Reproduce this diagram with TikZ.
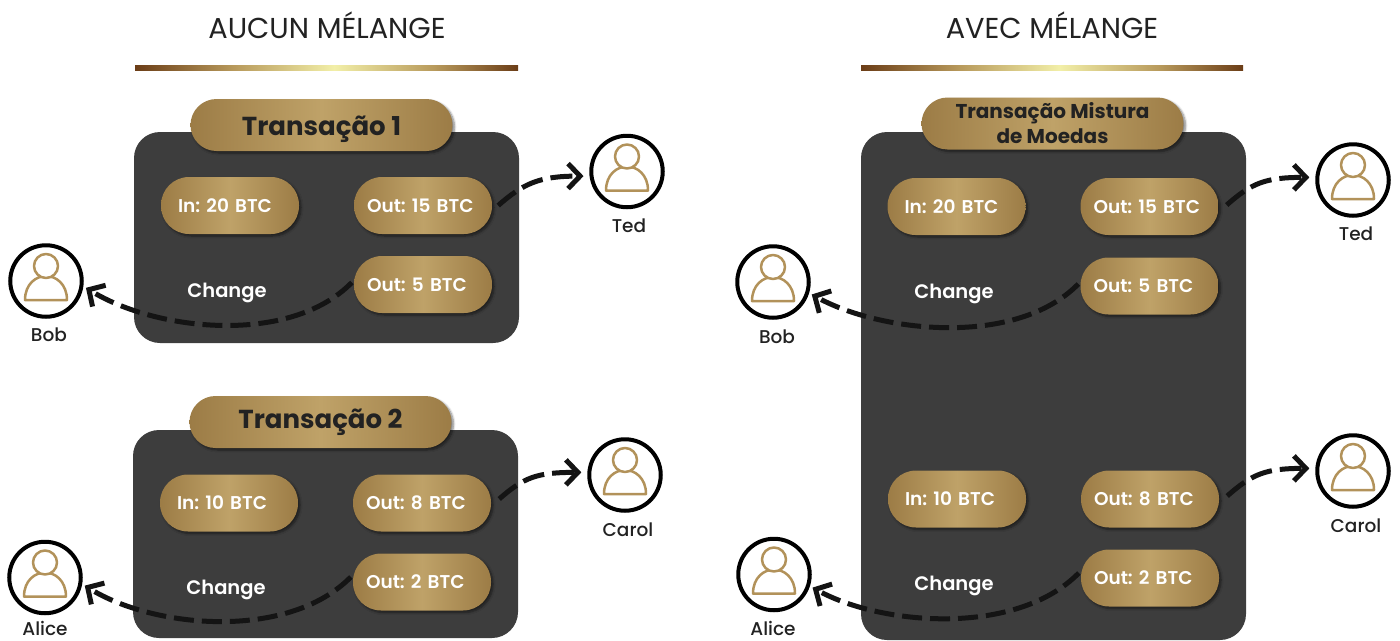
\documentclass[tikz,border=0pt]{standalone}
\usepackage{fontspec}
\setmainfont{Poppins}
\newfontfamily\medfont{Poppins Medium}
\newfontfamily\semifont{Poppins SemiBold}
\newfontfamily\boldfont{Poppins Bold}
\frenchspacing
\usetikzlibrary{arrows.meta}
\usetikzlibrary{shadows.blur}

\definecolor{panelgrey}{HTML}{3D3D3D}
\definecolor{golddark}{HTML}{9C7C46}
\definecolor{goldlight}{HTML}{BFA268}
\definecolor{barbrown}{HTML}{6B3D17}
\definecolor{barmid}{HTML}{B89A5C}
\definecolor{barpale}{HTML}{F2EFA8}
\definecolor{inkdark}{HTML}{222222}
\definecolor{icongold}{HTML}{B2925A}

\pgfdeclarehorizontalshading{goldpill}{100bp}{color(0bp)=(golddark); color(25bp)=(golddark); color(50bp)=(goldlight); color(75bp)=(golddark); color(100bp)=(golddark)}
\pgfdeclarehorizontalshading{goldbar}{100bp}{color(0bp)=(barbrown); color(25bp)=(barbrown); color(38bp)=(barmid); color(51bp)=(barpale); color(64bp)=(barmid); color(75bp)=(barbrown); color(100bp)=(barbrown)}

% person in a black ring, #1 = name, #2 and #3 = centre
\newcommand{\personicon}[3]{
	\node (#1) [person] at (#2,#3) {};
	\begin{scope}[shift={(#1.center)}]
		\draw[icon] (-21,19) .. controls (-21,3) and (-10,-5) .. (0,-5) .. controls (10,-5) and (21,3) .. (21,19) -- cycle;
		\draw[icon, fill=white] (0,-15) circle (12);
	\end{scope}
}

\begin{document}
\begin{tikzpicture}[x=1pt, y=-1pt, node distance=193pt,
	title/.style={font=\fontsize{28.8}{32}\selectfont, text=inkdark},
	bar/.style={minimum height=5pt, inner sep=0pt, shading=goldbar},
	panel/.style={fill=panelgrey, rounded corners=26pt, minimum width=385pt},
	pillbase/.style={rounded corners=28pt, shading=goldpill, minimum height=57pt, blur shadow={shadow xshift=2pt, shadow yshift=-2pt, shadow blur steps=6, shadow opacity=50}},
	outpill/.style={pillbase, inner xsep=13pt, text width=112pt, align=left, text=white, font=\semifont\fontsize{18.5}{20}\selectfont},
	inpill/.style={pillbase, inner xsep=17pt, text width=104pt, align=left, text=white, font=\semifont\fontsize{18.5}{20}\selectfont},
	head/.style={pillbase, rounded corners=26pt, minimum width=262pt, minimum height=52pt, inner sep=0pt, align=center, text=inkdark, font=\boldfont\fontsize{26}{30}\selectfont},
	note/.style={text=white, font=\semifont\fontsize{19.5}{22}\selectfont},
	who/.style={text=inkdark, inner sep=0pt, font=\medfont\fontsize{18.5}{20}\selectfont},
	person/.style={circle, draw=black, line width=4pt, fill=white, minimum size=71.5pt, inner sep=0pt},
	icon/.style={draw=icongold, line width=2.5pt, line join=round},
	flow/.style={line width=5pt, draw=black!92, dash pattern=on 20pt off 8pt, -{Straight Barb[length=12pt, width=25pt, line width=5pt]}, shorten >=3pt},
	flowout/.style={flow, dash pattern=on 22pt off 8pt, shorten >=6pt}]
	\useasboundingbox (0,0) rectangle (1400,640);

	% left side
	\node (TitleLeft)	[title] at (327,25)			{AUCUN MÉLANGE};
	\node (BarLeft)		[bar, minimum width=383pt] at (326.5,67.5)	{};
	\node (PanelA)		[panel, minimum height=211pt] at (326.5,237.5)	{};
	\node (PanelB)		[panel, minimum height=208pt] at (325.5,534)	{};
	\node (HeadA)		[head, text height=26pt, text depth=6pt] at (321.5,125)	{Transação 1};
	\node (HeadB)		[head] at (320.5,422)		{Transação 2};
	\node (InA)			[inpill] at (230,205.5)		{In: 20 BTC};
	\node (OutA)		[outpill, right of=InA]		{Out: 15 BTC};
	\node (ChangeA)		[outpill, below of=OutA, node distance=79pt]	{Out: 5 BTC};
	\node (NoteA)		[note] at (227,293)			{Change};
	\node (InB)			[inpill] at (229,503)		{In: 10 BTC};
	\node (OutB)		[outpill, right of=InB]		{Out: 8 BTC};
	\node (ChangeB)		[outpill, below of=OutB, node distance=79pt]	{Out: 2 BTC};
	\node (NoteB)		[note] at (226,590)			{Change};
	\personicon{TedA}{627}{171.5}
	\personicon{BobA}{46}{281}
	\personicon{CarolA}{625}{475}
	\personicon{AliceA}{45}{577.5}
	\node (TedNameA)	[who] at (629,226)			{Ted};
	\node (BobNameA)	[who] at (49,335)			{Bob};
	\node (CarolNameA)	[who] at (628,530)			{Carol};
	\node (AliceNameA)	[who] at (45,628)			{Alice};
	\draw[flowout] (OutA.east) ++(6,0) .. controls +(25,-22) and +(-50,0) .. (TedA.187);
	\draw[flow] (ChangeA.west) ++(-2,-2) .. controls +(-62,63) and +(73,45) .. (BobA.-8.5);
	\draw[flowout] (OutB.east) ++(8,-4) .. controls +(25,-22) and +(-50,0) .. (CarolA.176);
	\draw[flow] (ChangeB.west) ++(-2,-5) .. controls +(-62,63) and +(73,45) .. (AliceA.-10);

	% right side
	\node (TitleRight)	[title] at (1052,25)		{AVEC MÉLANGE};
	\node (BarRight)	[bar, minimum width=382pt] at (1052,67.5)	{};
	\node (PanelC)		[panel, minimum height=508pt] at (1053.5,386)	{};
	\node (HeadC)		[head, font=\boldfont\fontsize{20}{25}\selectfont] at (1052.5,123.5)	{Transação Mistura\\de Moedas};
	\node (InC)			[inpill] at (956.5,206.5)	{In: 20 BTC};
	\node (OutC)		[outpill, right of=InC]		{Out: 15 BTC};
	\node (ChangeC)		[outpill, below of=OutC, node distance=79.5pt]	{Out: 5 BTC};
	\node (NoteC)		[note] at (954,294)			{Change};
	\node (InD)			[inpill] at (957,499)		{In: 10 BTC};
	\node (OutD)		[outpill, right of=InD]		{Out: 8 BTC};
	\node (ChangeD)		[outpill, below of=OutD, node distance=79pt]	{Out: 2 BTC};
	\node (NoteD)		[note] at (954,586)			{Change};
	\personicon{TedC}{1353}{180}
	\personicon{BobC}{773}{282}
	\personicon{CarolC}{1353}{471}
	\personicon{AliceC}{774}{574.5}
	\node (TedNameC)	[who] at (1356,234)			{Ted};
	\node (BobNameC)	[who] at (777,337)			{Bob};
	\node (CarolNameC)	[who] at (1356,526)			{Carol};
	\node (AliceNameC)	[who] at (773,628)			{Alice};
	\draw[flowout] (OutC.east) ++(8,-1.5) .. controls +(25,-22) and +(-50,0) .. (TedC.176);
	\draw[flow] (ChangeC.west) ++(-2,-2) .. controls +(-62,63) and +(73,40) .. (BobC.-17);
	\draw[flowout] (OutD.east) ++(8,-3) .. controls +(25,-22) and +(-50,0) .. (CarolC.176);
	\draw[flow] (ChangeD.west) ++(-2,-5) .. controls +(-62,63) and +(73,40) .. (AliceC.-18);
\end{tikzpicture}
\end{document}
